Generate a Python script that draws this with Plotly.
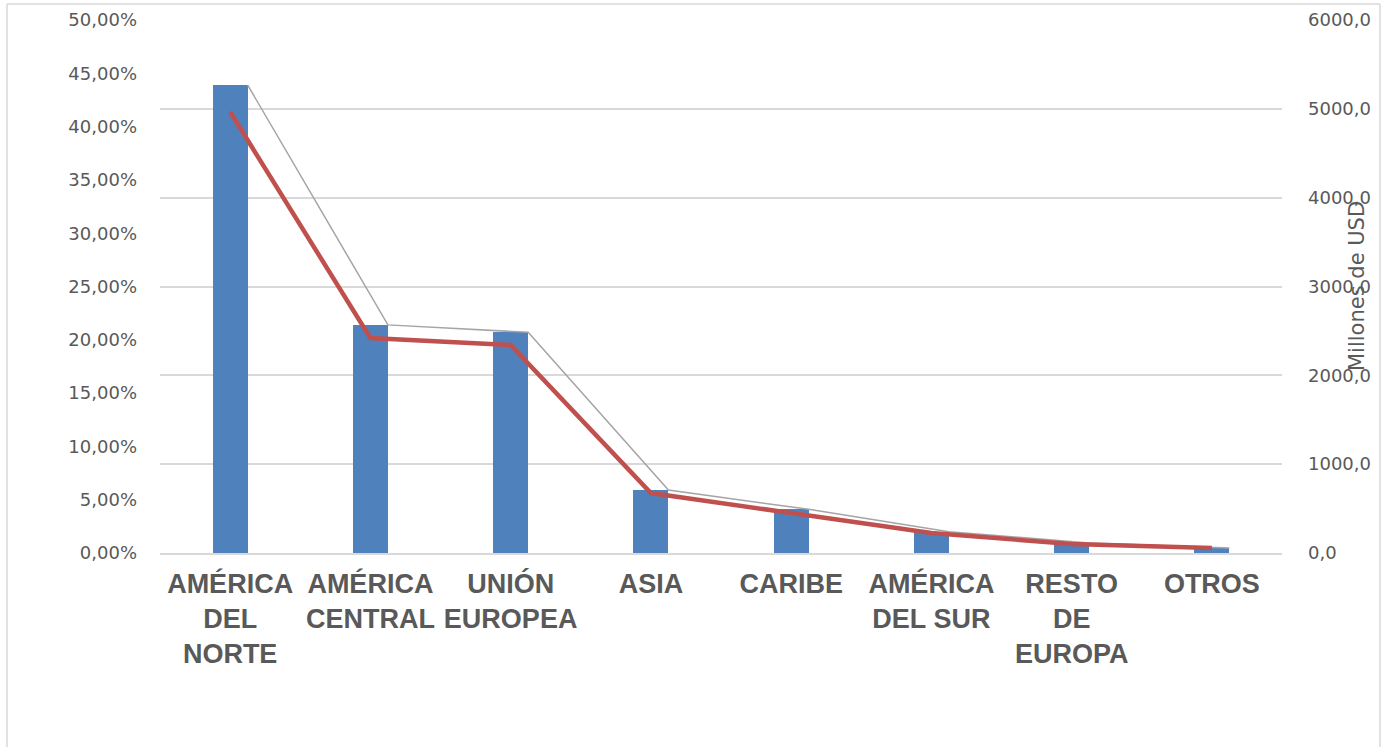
import plotly.graph_objects as go

categories = ["AMÉRICA<br>DEL<br>NORTE", "AMÉRICA<br>CENTRAL", "UNIÓN<br>EUROPEA", "ASIA",
              "CARIBE", "AMÉRICA<br>DEL SUR", "RESTO<br>DE<br>EUROPA", "OTROS"]
share_pct = [0.439, 0.214, 0.207, 0.059, 0.041, 0.020, 0.0094, 0.0047]
value_musd = [4965, 2420, 2342, 675, 450, 225, 101, 56]

idx = list(range(len(categories)))
bar_w = 0.25
grey_x = [i + bar_w / 2 for i in idx]
tick_text = ["<b>" + c.replace("<br>", "</b><br><b>") + "</b>" for c in categories]

W, H = 1387, 747
L, R, T, B = 160, 105, 20, 194
pw = W - L - R
ph = H - T - B

fig = go.Figure()
fig.add_trace(go.Bar(x=idx, y=share_pct, width=bar_w, marker=dict(color="#4F81BD", line=dict(width=0)),
                     yaxis="y", name="%"))
fig.add_trace(go.Scatter(x=grey_x, y=share_pct, mode="lines", line=dict(color="#A5A5A5", width=1.5),
                         yaxis="y", name="% línea"))
fig.add_trace(go.Scatter(x=idx, y=value_musd, mode="lines", line=dict(color="#C0504D", width=4.5),
                         yaxis="y2", name="Millones de USD"))

tick_font = dict(family="DejaVu Sans, sans-serif", size=18, color="#595959")

def px2paper_x(px):
    return (px - L) / pw

def px2paper_y(py):
    return (H - B - py) / ph

border = dict(color="#D9D9D9", width=1.5)
shapes = [
    dict(type="line", xref="paper", yref="paper", x0=px2paper_x(7), x1=px2paper_x(7),
         y0=px2paper_y(4), y1=px2paper_y(760), line=border),
    dict(type="line", xref="paper", yref="paper", x0=px2paper_x(7), x1=px2paper_x(1380),
         y0=px2paper_y(4), y1=px2paper_y(4), line=border),
    dict(type="line", xref="paper", yref="paper", x0=px2paper_x(1380), x1=px2paper_x(1380),
         y0=px2paper_y(4), y1=px2paper_y(760), line=border),
]

fig.update_layout(
    width=W, height=H,
    margin=dict(l=L, r=R, t=T, b=B, autoexpand=False),
    paper_bgcolor="white", plot_bgcolor="white",
    separators=",.",
    showlegend=False,
    bargap=0,
    xaxis=dict(range=[-0.5, 7.5], tickvals=idx, ticktext=tick_text, showgrid=False,
               zeroline=False, showline=True, linecolor="#D9D9D9", linewidth=1.5,
               ticks="", ticklabelstandoff=6, automargin=False,
               tickfont=dict(family="Liberation Sans, Arial, sans-serif", size=27, color="#595959"),
               tickangle=0),
    yaxis=dict(range=[0, 0.5], dtick=0.05, tickformat=".2%", showgrid=False, zeroline=False,
               showline=False, ticks="", ticklabelstandoff=22, tickfont=tick_font, automargin=False),
    yaxis2=dict(range=[0, 6000], dtick=1000, tickformat=".1f", overlaying="y", side="right",
                showgrid=True, gridcolor="#D9D9D9", gridwidth=1.5, zeroline=False, showline=False,
                ticks="", ticklabelstandoff=25, tickfont=tick_font, automargin=False),
    shapes=shapes,
    annotations=[dict(text="Millones de USD", xref="paper", yref="paper",
                      x=px2paper_x(1357), y=px2paper_y(286), textangle=-90,
                      showarrow=False, xanchor="center", yanchor="middle",
                      font=dict(family="DejaVu Sans, sans-serif", size=21, color="#595959"))],
)

fig.write_html("out.html")
